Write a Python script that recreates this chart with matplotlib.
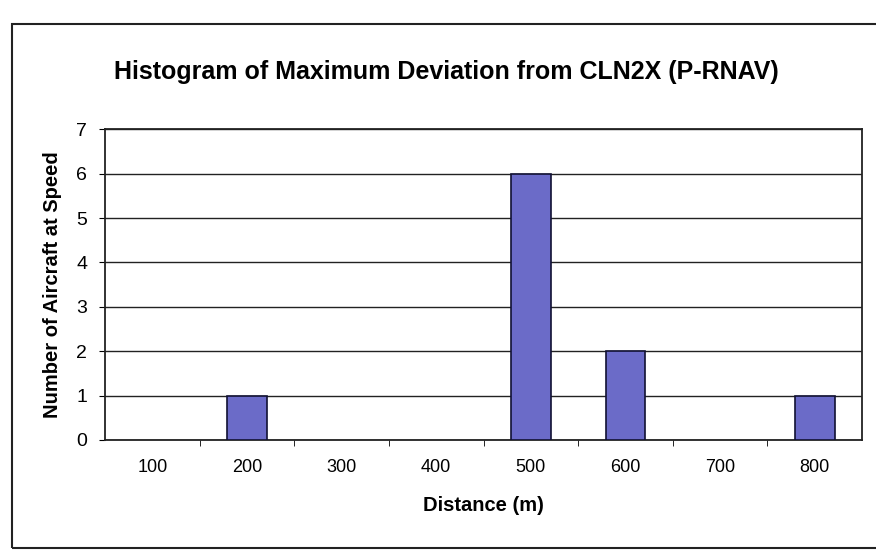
import matplotlib.pyplot as plt
import numpy as np
from matplotlib.patches import Rectangle

plt.rcParams['font.family'] = ['Liberation Sans', 'DejaVu Sans']

distances = ['100', '200', '300', '400', '500', '600', '700', '800']
counts = [0, 1, 0, 0, 6, 2, 0, 1]
y_ticks = [0, 1, 2, 3, 4, 5, 6, 7]

fig = plt.figure(figsize=(8.76, 5.5), dpi=100)
ax = fig.add_axes([0.12, 0.2, 0.864, 0.565])

# outer chart frame
fig.patches.append(Rectangle((0.014, 0.004), 0.99, 0.952, transform=fig.transFigure,
                             fill=False, edgecolor='#222222', linewidth=1.5))

x = np.arange(len(distances))
edges = ['#111133' if c > 0 else 'none' for c in counts]
ax.bar(x, counts, width=0.42, color='#6b6bc8', edgecolor=edges, linewidth=1.2, zorder=3)

ax.set_xlim(-0.5, len(distances) - 0.5)
ax.set_ylim(0, 7)
ax.set_yticks(y_ticks)
ax.tick_params(axis='y', labelsize=14, length=4, direction='out', pad=9)
ax.set_xticks(x)
ax.set_xticklabels(distances, fontsize=13)
ax.tick_params(axis='x', length=0, pad=14)
ax.set_xticks(np.arange(0.5, len(distances) - 0.5, 1), minor=True)
ax.tick_params(axis='x', which='minor', length=4, direction='out')

ax.grid(axis='y', color='#222222', linewidth=1.0, zorder=0)
for s in ax.spines.values():
    s.set_linewidth(1.3)
    s.set_color('#222222')

ax.set_ylabel('Number of Aircraft at Speed', fontsize=14.5, fontweight='bold', labelpad=10)
ax.set_xlabel('Distance (m)', fontsize=14.5, fontweight='bold', labelpad=14)
fig.text(0.51, 0.87, 'Histogram of Maximum Deviation from CLN2X (P-RNAV)',
         ha='center', va='center', fontsize=18, fontweight='bold')

fig.savefig('out.png', dpi=100)
